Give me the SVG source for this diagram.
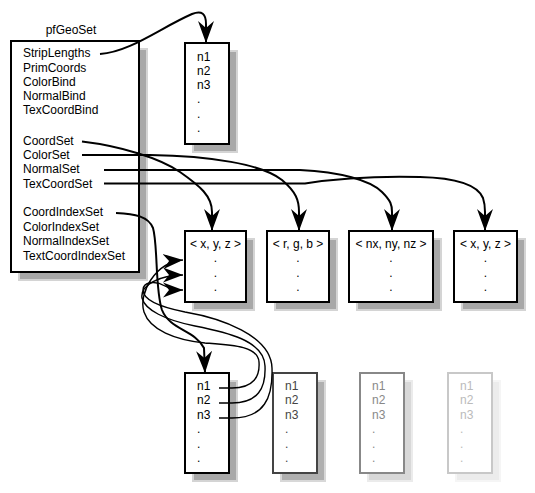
<svg xmlns="http://www.w3.org/2000/svg" width="535" height="493" viewBox="0 0 535 493">
<style>
text{font-family:"Liberation Sans",Arial,sans-serif;font-size:12px;fill:#000}
.box{fill:#fff;stroke:#000;stroke-width:2}
.sh{fill:#a8a8a8;stroke:#d4d4d4;stroke-width:2}
.c{fill:none;stroke:#000;stroke-width:2}
.t{fill:none;stroke:#000;stroke-width:1.4}
.m{text-anchor:middle}
text.g4{fill:#444}
text.g8{fill:#888}
text.gb{fill:#bbb}
</style>
<defs>
<marker id="ah" markerUnits="userSpaceOnUse" markerWidth="24" markerHeight="18" refX="22" refY="9" orient="auto" viewBox="0 0 24 18">
<path d="M0,1 L22,9 L0,17 L7,9 Z" fill="#000"/>
</marker>
<marker id="ahs" markerUnits="userSpaceOnUse" markerWidth="22" markerHeight="16" refX="20" refY="8" orient="auto" viewBox="0 0 22 16">
<path d="M0,0.5 L20,8 L0,15.5 L6,8 Z" fill="#000"/>
</marker>
</defs>

<g id="pfGeoSet">
<rect class="sh" x="19" y="49" width="128" height="231"/>
<rect class="box" x="11" y="41" width="128" height="231"/>
<text class="m" x="71" y="34">pfGeoSet</text>
<text x="23" y="57">StripLengths</text>
<text x="23" y="71.5">PrimCoords</text>
<text x="23" y="86">ColorBind</text>
<text x="23" y="100">NormalBind</text>
<text x="23" y="114">TexCoordBind</text>
<text x="23" y="144.5">CoordSet</text>
<text x="23" y="158.5">ColorSet</text>
<text x="23" y="173">NormalSet</text>
<text x="23" y="187.5">TexCoordSet</text>
<text x="23" y="216">CoordIndexSet</text>
<text x="23" y="230.5">ColorIndexSet</text>
<text x="23" y="245">NormalIndexSet</text>
<text x="23" y="259.5">TextCoordIndexSet</text>
</g>

<g id="lengths">
<rect class="sh" x="193" y="51" width="44" height="101"/>
<rect class="box" x="185" y="43" width="44" height="101"/>
<text x="197" y="61">n1</text>
<text x="197" y="75">n2</text>
<text x="197" y="89">n3</text>
<text x="197" y="103">.</text>
<text x="197" y="118">.</text>
<text x="197" y="132">.</text>
</g>

<g id="coords">
<rect class="sh" x="193" y="239" width="61" height="71"/>
<rect class="box" x="185" y="231" width="61" height="71"/>
<text class="m" x="215.5" y="248">&lt; x, y, z &gt;</text>
<text class="m" x="215.5" y="262">.</text>
<text class="m" x="215.5" y="277">.</text>
<text class="m" x="215.5" y="291">.</text>
</g>

<g id="colors">
<rect class="sh" x="275" y="239" width="62" height="71"/>
<rect class="box" x="267" y="231" width="62" height="71"/>
<text class="m" x="298" y="248">&lt; r, g, b &gt;</text>
<text class="m" x="298" y="262">.</text>
<text class="m" x="298" y="277">.</text>
<text class="m" x="298" y="291">.</text>
</g>

<g id="normals">
<rect class="sh" x="357" y="239" width="84" height="71"/>
<rect class="box" x="349" y="231" width="84" height="71"/>
<text class="m" x="391" y="248">&lt; nx, ny, nz &gt;</text>
<text class="m" x="391" y="262">.</text>
<text class="m" x="391" y="277">.</text>
<text class="m" x="391" y="291">.</text>
</g>

<g id="texcoords">
<rect class="sh" x="462" y="239" width="63" height="71"/>
<rect class="box" x="454" y="231" width="63" height="71"/>
<text class="m" x="485.5" y="248">&lt; x, y, z &gt;</text>
<text class="m" x="485.5" y="262">.</text>
<text class="m" x="485.5" y="277">.</text>
<text class="m" x="485.5" y="291">.</text>
</g>

<g id="index1">
<rect class="sh" x="193" y="381" width="44" height="100"/>
<rect class="box" x="185" y="373" width="44" height="100"/>
<text x="197" y="390">n1</text>
<text x="197" y="404">n2</text>
<text x="197" y="419">n3</text>
<text x="197" y="433">.</text>
<text x="197" y="448">.</text>
<text x="197" y="462">.</text>
</g>

<g id="index2">
<rect x="281" y="381" width="44" height="100" fill="#b0b0b0" stroke="#d8d8d8" stroke-width="2"/>
<rect x="273" y="373" width="44" height="100" fill="#fff" stroke="#444" stroke-width="2"/>
<text class="g4" x="285" y="390">n1</text>
<text class="g4" x="285" y="404">n2</text>
<text class="g4" x="285" y="419">n3</text>
<text class="g4" x="285" y="433">.</text>
<text class="g4" x="285" y="448">.</text>
<text class="g4" x="285" y="462">.</text>
</g>

<g id="index3">
<rect x="368" y="381" width="44" height="100" fill="#d8d8d8" stroke="#ebebeb" stroke-width="2"/>
<rect x="360" y="373" width="44" height="100" fill="#fff" stroke="#888" stroke-width="2"/>
<text class="g8" x="372" y="390">n1</text>
<text class="g8" x="372" y="404">n2</text>
<text class="g8" x="372" y="419">n3</text>
<text class="g8" x="372" y="433">.</text>
<text class="g8" x="372" y="448">.</text>
<text class="g8" x="372" y="462">.</text>
</g>

<g id="index4">
<rect x="456" y="381" width="44" height="100" fill="#ececec" stroke="#f5f5f5" stroke-width="2"/>
<rect x="448" y="373" width="44" height="100" fill="#fff" stroke="#c8c8c8" stroke-width="2"/>
<text class="gb" x="460" y="390">n1</text>
<text class="gb" x="460" y="404">n2</text>
<text class="gb" x="460" y="419">n3</text>
<text class="gb" x="460" y="433">.</text>
<text class="gb" x="460" y="448">.</text>
<text class="gb" x="460" y="462">.</text>
</g>

<g id="connectors">
<path class="c" marker-end="url(#ah)" d="M100,54 C130,52 160,28 192,14 C202,10 206,14 206,24 L206,43"/>
<path class="c" marker-end="url(#ah)" d="M82,141.5 C120,146 160,158 180,172 C200,186 212,196 212,212 L212,231"/>
<path class="c" marker-end="url(#ah)" d="M82,155 L150,155 C210,156 262,164 282,180 C296,192 299,200 299,212 L299,231"/>
<path class="c" marker-end="url(#ah)" d="M104,170 L300,170 C340,172 370,180 382,192 C391,201 392,205 392,212 L392,231"/>
<path class="c" marker-end="url(#ah)" d="M104,183.5 L305,183.5 C340,178 380,176 420,177 C460,178 478,186 483,198 C485,204 485,208 485,212 L485,231"/>
<path class="c" marker-end="url(#ah)" d="M116,213 C135,214 148,216 153,228 C158,245 155,290 162,310 C170,330 195,330 204,348 L205,373"/>
<path class="t" marker-end="url(#ahs)" d="M219,388 L232,388 C254,388 260,376 259,362 C258,346 232,345 205,343 C175,340 150,330 144,312 C138,294 155,262 183,260"/>
<path class="t" marker-end="url(#ahs)" d="M219,403 L232,403 C258,403 266,388 265,366 C264,340 225,332 195,326 C165,320 145,310 142,298 C140,285 160,275 183,275"/>
<path class="t" marker-end="url(#ahs)" d="M219,418 L232,418 C264,418 273,398 272,368 C271,335 220,318 185,312 C160,307 143,300 143,290 C143,282 155,280 165,286 C172,290 175,290 183,290"/>
</g>
</svg>
